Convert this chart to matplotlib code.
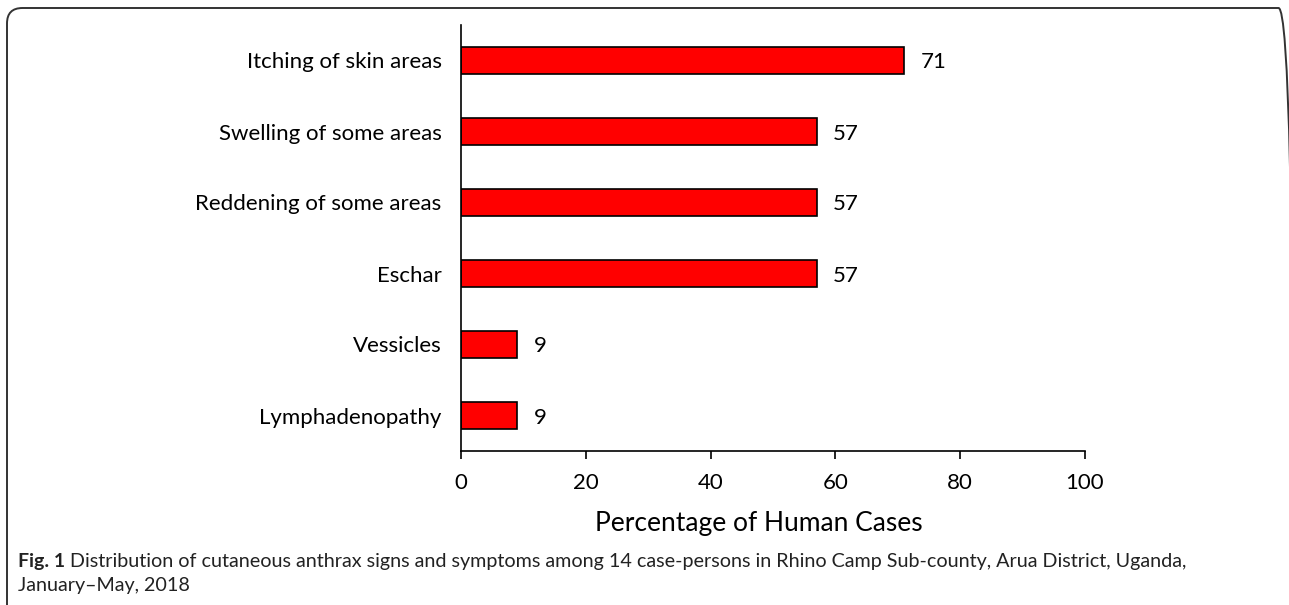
import matplotlib.pyplot as plt
from matplotlib.patches import FancyBboxPatch

symptoms = ["Lymphadenopathy", "Vessicles", "Eschar", "Reddening of some areas",
            "Swelling of some areas", "Itching of skin areas"]
percent = [9, 9, 57, 57, 57, 71]
x_ticks = [0, 20, 40, 60, 80, 100]

plt.rcParams['font.family'] = ['Lato', 'DejaVu Sans']

fig = plt.figure(figsize=(12.89, 6.05), dpi=100)

# rounded frame around the figure panel (bottom and right run off the image)
x0, y1 = 7 / 1289, 1 - 8 / 605
frame = FancyBboxPatch((x0, -0.1), 1294 / 1289 - x0, y1 + 0.1,
                       boxstyle="round,pad=0,rounding_size=0.012",
                       transform=fig.transFigure, fill=False,
                       edgecolor='#333333', linewidth=1.4, mutation_aspect=1289 / 605)
fig.patches.append(frame)

ax = fig.add_axes([461 / 1289, 1 - 451 / 605, (1085 - 461) / 1289, (451 - 25) / 605])
ypos = range(len(symptoms))
ax.barh(ypos, percent, height=0.37, color='#ff0000', edgecolor='black', linewidth=1.2)
for y, v in zip(ypos, percent):
    ax.text(v + 2.6, y, str(v), va='center_baseline', ha='left', fontsize=16)

ax.set_xlim(0, 100)
ax.set_ylim(-0.5, 5.5)
ax.set_xticks(x_ticks)
ax.set_yticks(list(ypos))
ax.set_yticklabels(symptoms)
ax.tick_params(axis='x', labelsize=16, direction='out', length=6, width=1.2, pad=10)
ax.tick_params(axis='y', labelsize=16, length=0, pad=14)
for lbl in ax.get_yticklabels():
    lbl.set_verticalalignment('center_baseline')
for side in ['top', 'right']:
    ax.spines[side].set_visible(False)
for side in ['left', 'bottom']:
    ax.spines[side].set_linewidth(1.2)
ax.set_xlabel('Percentage of Human Cases', fontsize=19)
ax.xaxis.set_label_coords(0.477, -0.14)

cap_y = 1 - 567 / 605
fig.text(18 / 1289, cap_y, "Fig. 1", fontsize=14, fontweight='bold', color='#222222')
fig.text(70 / 1289, cap_y,
         "Distribution of cutaneous anthrax signs and symptoms among 14 case-persons in Rhino Camp Sub-county, Arua District, Uganda,",
         fontsize=14.2, color='#222222')
fig.text(18 / 1289, 1 - 591 / 605, "January\u2013May, 2018", fontsize=14.2, color='#222222')

fig.savefig('out.png', dpi=100)
